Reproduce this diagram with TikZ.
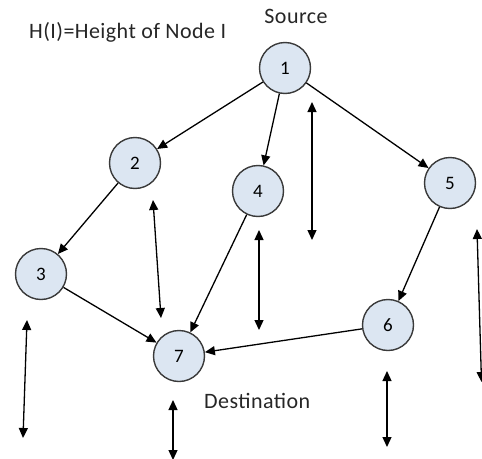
\documentclass[tikz,border=0pt]{standalone}
\usepackage{fontspec}
\setmainfont{Carlito}
\newfontfamily\capfont[LetterSpace=2]{Carlito}
\usetikzlibrary{arrows.meta}
\definecolor{nodefill}{HTML}{DCE6F2}
\definecolor{nodeline}{HTML}{3A3A3A}
\tikzset{
  vertex/.style={circle, draw=nodeline, line width=1.4pt, fill=nodefill,
    minimum size=51pt, inner sep=0pt, font=\fontsize{19}{19}\selectfont},
  edge/.style={line width=1.3pt, -{Triangle[length=10pt,width=9pt]}},
  height/.style={line width=1.3pt, {Triangle[length=10pt,width=9pt]}-{Triangle[length=10pt,width=9pt]}},
  caption/.style={font=\capfont\fontsize{22}{22}\selectfont, inner sep=0pt, text=black!85}
}
\begin{document}
\begin{tikzpicture}[x=1pt, y=-1pt]
  \useasboundingbox (0,0) rectangle (482,458);
  \clip (0,0) rectangle (482,458);

  % captions
  \node[caption, anchor=base west] (legend) at (29,38) {H(I)=Height of Node I};
  \node[caption, anchor=base] (src) at (296,23) {Source};
  \node[caption, anchor=base west] (dst) at (204,408) {Destination};

  % graph vertices
  \node[vertex] (n1) at (285,68) {1};
  \node[vertex] (n2) at (135,163) {2};
  \node[vertex] (n4) at (258,191) {4};
  \node[vertex] (n5) at (450,183) {5};
  \node[vertex] (n3) at (41,274) {3};
  \node[vertex] (n7) at (179,356) {7};
  \node[vertex] (n6) at (388,325) {6};

  % directed edges
  \draw[edge] (n1) -- (n2);
  \draw[edge] (n1) -- (n4);
  \draw[edge] (n1) -- (n5);
  \draw[edge] (n2) -- (n3);
  \draw[edge] (n3) -- (n7);
  \draw[edge] (n4) -- (n7);
  \draw[edge] (n5) -- (n6);
  \draw[edge] (n6) -- (n7);

  % height markers
  \coordinate (h1a) at (312,102);  \coordinate (h1b) at (312,240);
  \coordinate (h2a) at (153,200);  \coordinate (h2b) at (161,318);
  \coordinate (h4a) at (259,230);  \coordinate (h4b) at (259,330);
  \coordinate (h5a) at (477,229);  \coordinate (h5b) at (481.5,382);
  \coordinate (h3a) at (27,320);   \coordinate (h3b) at (23,438);
  \coordinate (h7a) at (173,400);  \coordinate (h7b) at (173,460);
  \coordinate (h6a) at (387,371);  \coordinate (h6b) at (387,447);
  \foreach \p in {1,2,4,5,3,7,6}
    \draw[height] (h\p a) -- (h\p b);
\end{tikzpicture}
\end{document}
